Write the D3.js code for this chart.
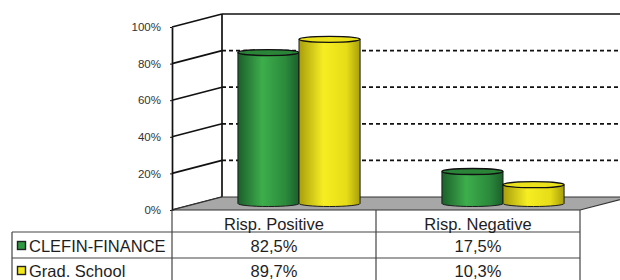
<!DOCTYPE html>
<html>
<head>
<meta charset="utf-8">
<script src="https://cdn.jsdelivr.net/npm/d3@7"></script>
<style>
  body { margin: 0; background: #fff; }
  svg { display: block; font-family: Arial, "Liberation Sans", sans-serif; }
</style>
</head>
<body>
<svg id="chart" width="620" height="280"></svg>
<script>
// data
var categories = ["Risp. Positive", "Risp. Negative"];
var seriesNames = ["CLEFIN-FINANCE", "Grad. School"];
var clefinValues = [82.5, 17.5];
var gradValues = [89.7, 10.3];
var yTicks = [0, 20, 40, 60, 80, 100];

var seriesValues = [clefinValues, gradValues];

// look
var colors = {
  "CLEFIN-FINANCE": { dark: "#1b5f2b", light: "#3dae4c", mid: "#2b8a3b", top: "#2a8539", key: "#2f9a42" },
  "Grad. School":   { dark: "#a89e0c", light: "#f6ee22", mid: "#e6dc18", top: "#ece21c", key: "#f2e81a" }
};
var depthX = 50, depthY = -13;
var plot = { left: 172, right: 580, top: 27, bottom: 210 };
var wallStroke = 1.7;

var svg = d3.select("#chart");
var decFmt = d3.formatLocale({ decimal: ",", thousands: ".", grouping: [3], currency: ["", "€"] }).format(".1f");

var y = d3.scaleLinear().domain([0, 100]).range([plot.bottom, plot.top]);
var x = d3.scaleBand().domain(categories).range([plot.left, plot.right]);
var xs = d3.scaleBand().domain(seriesNames).range([0, x.bandwidth()]).paddingOuter(0.67);

// gradients
var defs = svg.append("defs");
seriesNames.forEach(function(s, i){
  var g = defs.append("linearGradient").attr("id", "grad" + i)
    .attr("x1", "0%").attr("x2", "100%").attr("y1", "0%").attr("y2", "0%");
  g.append("stop").attr("offset", "0%").attr("stop-color", colors[s].dark);
  g.append("stop").attr("offset", "40%").attr("stop-color", colors[s].light);
  g.append("stop").attr("offset", "78%").attr("stop-color", colors[s].mid);
  g.append("stop").attr("offset", "100%").attr("stop-color", colors[s].dark);
});

// back wall + gridlines
var back = svg.append("g").attr("class", "back-wall");
back.append("line")
  .attr("x1", plot.left + depthX).attr("x2", plot.left + depthX)
  .attr("y1", y(100) + depthY).attr("y2", y(0) + depthY)
  .attr("stroke", "#111").attr("stroke-width", wallStroke);
back.selectAll("line.grid")
  .data(yTicks.filter(function(t){ return t > 0; }))
  .enter().append("line")
  .attr("class", "grid")
  .attr("x1", plot.left + depthX).attr("x2", 620)
  .attr("y1", function(d){ return y(d) + depthY; })
  .attr("y2", function(d){ return y(d) + depthY; })
  .attr("stroke", "#111").attr("stroke-width", wallStroke)
  .attr("stroke-dasharray", function(d){ return d === 100 ? null : "4,3"; });

// side wall lines
svg.append("g").selectAll("line")
  .data(yTicks)
  .enter().append("line")
  .attr("x1", plot.left).attr("x2", plot.left + depthX)
  .attr("y1", function(d){ return y(d); })
  .attr("y2", function(d){ return y(d) + depthY; })
  .attr("stroke", "#111").attr("stroke-width", wallStroke);

// floor
svg.append("polygon")
  .attr("points", [
    [plot.left, y(0)], [plot.right, y(0)],
    [plot.right + depthX, y(0) + depthY], [plot.left + depthX, y(0) + depthY]
  ].join(" "))
  .attr("fill", "#a7a7a7").attr("stroke", "#333").attr("stroke-width", 1.2);

// axis
var axis = svg.append("g")
  .attr("transform", "translate(" + plot.left + ",0)")
  .call(d3.axisLeft(y).tickValues(yTicks).tickFormat(function(d){ return d + "%"; })
    .tickSize(2).tickSizeOuter(0).tickPadding(9));
axis.select(".domain").attr("stroke", "#111").attr("stroke-width", wallStroke);
axis.selectAll(".tick line").attr("stroke", "#111");
axis.selectAll("text").attr("font-size", "11.5px").attr("fill", "#333")
  .attr("font-family", "Arial, 'Liberation Sans', sans-serif");

// cylinders
var ry = 3;
function sidePath(x0, w, yt, yb){
  var rx = w / 2;
  return "M" + x0 + "," + yt + "L" + x0 + "," + yb +
    "A" + rx + "," + ry + " 0 0 0 " + (x0 + w) + "," + yb +
    "L" + (x0 + w) + "," + yt + "Z";
}
var bars = [];
categories.forEach(function(c, ci){
  seriesNames.forEach(function(s, si){
    bars.push({ cat: c, series: s, si: si, value: seriesValues[si][ci] });
  });
});
var cyl = svg.append("g").selectAll("g.cyl")
  .data(bars).enter().append("g").attr("class", "cyl");
cyl.append("path")
  .attr("d", function(d){
    var x0 = x(d.cat) + xs(d.series) + depthX / 2;
    return sidePath(x0, xs.bandwidth(), y(d.value) + depthY / 2, y(0) + depthY / 2);
  })
  .attr("fill", function(d){ return "url(#grad" + d.si + ")"; })
  .attr("stroke", "#1a1a1a").attr("stroke-width", 1);
cyl.append("ellipse")
  .attr("cx", function(d){ return x(d.cat) + xs(d.series) + depthX / 2 + xs.bandwidth() / 2; })
  .attr("cy", function(d){ return y(d.value) + depthY / 2; })
  .attr("rx", xs.bandwidth() / 2).attr("ry", ry)
  .attr("fill", function(d){ return colors[d.series].top; })
  .attr("stroke", "#111").attr("stroke-width", 1.3);

// data table
var rowY = [plot.bottom, 232, 258, 284];
var legendLeft = 12;
var fontSize = "16.5px";
var table = svg.append("g").attr("class", "table").attr("fill", "#1e1e1e");
var lineColor = "#444";
[1, 2].forEach(function(r){
  table.append("line").attr("x1", legendLeft).attr("x2", plot.right)
    .attr("y1", rowY[r]).attr("y2", rowY[r]).attr("stroke", lineColor).attr("stroke-width", 1.2);
});
table.append("line").attr("x1", legendLeft).attr("x2", legendLeft)
  .attr("y1", rowY[1]).attr("y2", rowY[3]).attr("stroke", lineColor).attr("stroke-width", 1.2);
table.append("line").attr("x1", plot.left).attr("x2", plot.left)
  .attr("y1", rowY[0]).attr("y2", rowY[3]).attr("stroke", lineColor).attr("stroke-width", 1.2);
categories.forEach(function(c){
  table.append("line").attr("x1", x(c) + x.bandwidth()).attr("x2", x(c) + x.bandwidth())
    .attr("y1", rowY[0]).attr("y2", rowY[3]).attr("stroke", lineColor).attr("stroke-width", 1.2);
});

table.selectAll("text.head").data(categories).enter().append("text")
  .attr("class", "head")
  .attr("x", function(d){ return x(d) + x.bandwidth() / 2; })
  .attr("y", 230).attr("text-anchor", "middle").attr("font-size", fontSize)
  .text(function(d){ return d; });

seriesNames.forEach(function(s, si){
  var base = [252, 277][si];
  table.append("rect")
    .attr("x", 17.5).attr("y", base - 10.5).attr("width", 8).attr("height", 8)
    .attr("fill", colors[s].key).attr("stroke", "#222").attr("stroke-width", 1.4);
  table.append("text").attr("x", 29).attr("y", base).attr("font-size", fontSize).text(s);
  table.selectAll("text.v" + si).data(seriesValues[si]).enter().append("text")
    .attr("x", function(d, i){ return x(categories[i]) + x.bandwidth() / 2; })
    .attr("y", base).attr("text-anchor", "middle").attr("font-size", fontSize)
    .text(function(d){ return decFmt(d) + "%"; });
});
</script>
</body>
</html>
